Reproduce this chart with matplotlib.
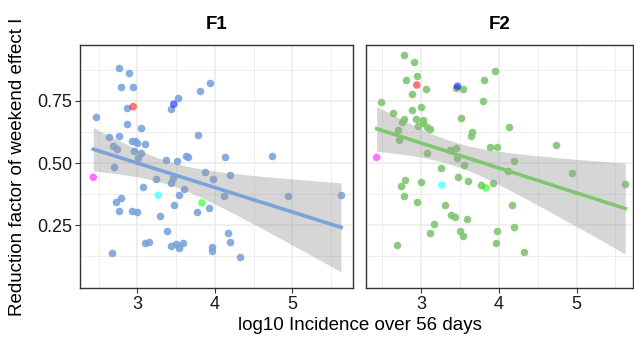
import numpy as np
import matplotlib
matplotlib.use('Agg')
import matplotlib.pyplot as plt

plt.rcParams['font.family'] = ['Liberation Sans', 'DejaVu Sans']

# Panel F1
f1_x = [2.767, 2.897, 2.784, 2.940, 3.940, 3.802, 3.526, 2.871, 3.435, 2.461,
        2.866, 3.047, 2.629, 2.767, 3.780, 2.927, 2.970, 2.991, 3.099, 2.690,
        2.733, 2.957, 3.043, 3.013, 3.629, 3.647, 4.125, 4.733, 3.371, 3.509,
        2.703, 3.871, 4.194, 3.246, 3.457, 3.974, 3.440, 3.069, 3.603, 3.534,
        4.116, 4.940, 5.629, 2.784, 2.728, 3.470, 3.918, 2.767, 2.931, 2.991,
        3.772, 3.297, 3.379, 4.168, 3.099, 3.155, 4.190, 3.431, 3.496, 3.539,
        3.591, 3.966, 3.966, 2.677, 4.323]
f1_y = [0.883, 0.861, 0.804, 0.808, 0.824, 0.789, 0.763, 0.722, 0.716, 0.684,
        0.656, 0.643, 0.604, 0.608, 0.612, 0.588, 0.590, 0.580, 0.577, 0.568,
        0.558, 0.549, 0.540, 0.519, 0.529, 0.526, 0.526, 0.530, 0.513, 0.509,
        0.483, 0.464, 0.454, 0.436, 0.440, 0.436, 0.419, 0.406, 0.395, 0.372,
        0.368, 0.368, 0.372, 0.361, 0.342, 0.333, 0.320, 0.309, 0.306, 0.305,
        0.304, 0.289, 0.229, 0.221, 0.178, 0.184, 0.182, 0.167, 0.174, 0.160,
        0.179, 0.162, 0.148, 0.137, 0.124]

# Panel F2
f2_x = [2.786, 2.910, 3.946, 2.953, 2.803, 3.814, 3.064, 3.445, 3.544, 2.889,
        2.482, 3.792, 3.000, 2.880, 2.645, 2.786, 2.752, 2.940, 3.021, 2.966,
        3.030, 3.073, 3.111, 3.518, 4.135, 2.705, 2.717, 3.655, 3.638, 3.882,
        3.981, 4.739, 3.373, 3.454, 3.081, 3.463, 4.195, 3.548, 3.257, 4.122,
        4.944, 3.480, 2.799, 3.004, 3.608, 3.925, 2.743, 3.775, 5.625, 2.782,
        2.949, 3.308, 4.173, 3.381, 3.441, 3.595, 3.171, 3.111, 3.501, 3.972,
        4.195, 3.544, 2.692, 3.968, 4.323]
f2_y = [0.935, 0.907, 0.872, 0.851, 0.833, 0.833, 0.798, 0.801, 0.797, 0.778,
        0.747, 0.751, 0.725, 0.715, 0.702, 0.678, 0.664, 0.678, 0.674, 0.649,
        0.660, 0.647, 0.637, 0.680, 0.644, 0.633, 0.593, 0.624, 0.611, 0.565,
        0.565, 0.572, 0.554, 0.561, 0.542, 0.521, 0.510, 0.491, 0.482, 0.468,
        0.459, 0.446, 0.432, 0.426, 0.427, 0.419, 0.407, 0.411, 0.418, 0.367,
        0.344, 0.333, 0.333, 0.293, 0.282, 0.275, 0.255, 0.221, 0.227, 0.229,
        0.243, 0.207, 0.172, 0.179, 0.144]

# Highlighted regions (same incidence in both panels)
hl_x = [2.945, 3.470, 2.430, 3.268, 3.833]
hl_y_f1 = [0.727, 0.737, 0.443, 0.371, 0.340]
hl_y_f2 = [0.814, 0.809, 0.523, 0.412, 0.400]
hl_colors = ['#ff0000', '#0000ff', '#ff00ff', '#00ffff', '#00ff00']

panels = [
    ('F1', f1_x, f1_y, hl_y_f1, '#7aa3db', (80, 353.3), (2.259, 5.787)),
    ('F2', f2_x, f2_y, hl_y_f2, '#80c671', (365.7, 633), (2.289, 5.725)),
]

W, H = 634, 339
fig = plt.figure(figsize=(W / 100, H / 100), dpi=100)
top, bottom = 44.7, 288.3
t_crit = 1.995  # t quantile, df ~ 68

for i, (name, xs, ys, hl_y, col, (px0, px1), xlim) in enumerate(panels):
    ax = fig.add_axes([px0 / W, 1 - bottom / H, (px1 - px0) / W, (bottom - top) / H])
    x = np.array(xs + hl_x)
    y = np.array(ys + hl_y)

    ax.scatter(xs, ys, s=30, color=col, alpha=0.9, linewidths=0, zorder=2)
    ax.scatter(hl_x, hl_y, s=30, color=hl_colors, alpha=0.55, linewidths=0, zorder=3)

    # linear fit with 95% confidence band
    n = len(x)
    b, a = np.polyfit(x, y, 1)
    xg = np.linspace(x.min(), x.max(), 100)
    yg = a + b * xg
    resid = y - (a + b * x)
    s = np.sqrt(np.sum(resid ** 2) / (n - 2))
    se = s * np.sqrt(1 / n + (xg - x.mean()) ** 2 / np.sum((x - x.mean()) ** 2))
    ax.fill_between(xg, yg - t_crit * se, yg + t_crit * se, color='#999999',
                    alpha=0.4, linewidth=0, zorder=4)
    ax.plot(xg, yg, color=col, lw=2.6, zorder=5)

    ax.set_xlim(*xlim)
    ax.set_ylim(-0.003, 0.976)
    ax.set_xticks([3, 4, 5])
    ax.set_xticks([2.5, 3.5, 4.5, 5.5], minor=True)
    ax.set_yticks([0.25, 0.5, 0.75])
    ax.set_yticks([0.125, 0.375, 0.625, 0.875], minor=True)
    ax.grid(which='major', color='#ebebeb', lw=1.1, zorder=0)
    ax.grid(which='minor', color='#ebebeb', lw=0.6, zorder=0)
    ax.set_axisbelow(True)
    ax.tick_params(which='major', length=3.5, width=0.8, color='#333333',
                   labelsize=13, labelcolor='#1a1a1a', pad=2)
    ax.tick_params(which='minor', length=0)
    for sp in ax.spines.values():
        sp.set_color('#333333')
        sp.set_linewidth(1.0)
    if i == 0:
        ax.set_yticklabels(['0.25', '0.50', '0.75'])
    else:
        ax.tick_params(axis='y', labelleft=False, length=0)
    ax.set_title(name, fontsize=13.5, fontweight='bold', pad=11)

fig.text(359.5 / W, 1 - 326 / H, 'log10 Incidence over 56 days', ha='center',
         va='center', fontsize=13.5)
fig.text(18 / W, 1 - 166.5 / H, 'Reduction factor of weekend effect I', ha='center',
         va='center', rotation=90, fontsize=13.5)

fig.savefig('out.png', dpi=100)
